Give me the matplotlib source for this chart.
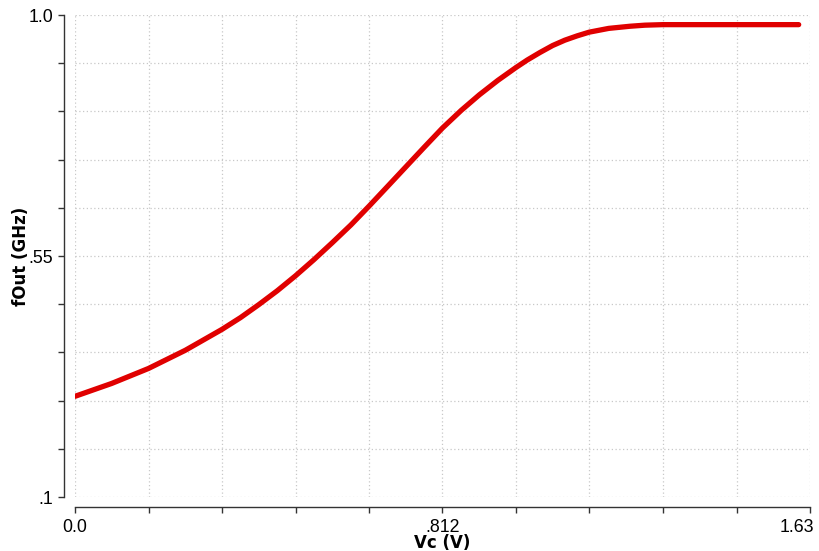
import matplotlib
matplotlib.use("Agg")
import matplotlib.pyplot as plt
import matplotlib.transforms as mtransforms
from matplotlib.ticker import FixedLocator, FixedFormatter

# Data
vc = [0.0, 0.081, 0.1625, 0.244, 0.325, 0.366, 0.406, 0.447, 0.4875, 0.528,
      0.569, 0.61, 0.65, 0.69, 0.731, 0.772, 0.8125, 0.854, 0.894, 0.935,
      0.975, 1.0, 1.028, 1.056, 1.083, 1.11, 1.137, 1.18, 1.227, 1.26,
      1.30, 1.40, 1.50, 1.60]
fout = [0.288, 0.312, 0.340, 0.374, 0.413, 0.435, 0.459, 0.485, 0.513, 0.543,
        0.575, 0.608, 0.643, 0.679, 0.716, 0.753, 0.789, 0.822, 0.851, 0.878,
        0.902, 0.916, 0.930, 0.943, 0.953, 0.961, 0.968, 0.975, 0.979, 0.981,
        0.982, 0.982, 0.982, 0.982]

x_ticks = [i * 0.1625 for i in range(11)]
x_labels = ["0.0", "", "", "", "", ".812", "", "", "", "", "1.63"]
y_ticks = [0.1 + i * 0.09 for i in range(11)]
y_labels = [".1", "", "", "", "", ".55", "", "", "", "", "1.0"]

W, H = 820, 551
fig = plt.figure(figsize=(W / 100, H / 100), dpi=100)
ax = fig.add_axes([75 / W, (H - 497) / H, 735 / W, 482 / H])

ax.plot(vc, fout, color="#e00000", lw=3.8, solid_capstyle="round",
        solid_joinstyle="round", zorder=3)

ax.set_xlim(0, 1.625)
ax.set_ylim(0.1, 1.0)

ax.xaxis.set_major_locator(FixedLocator(x_ticks))
ax.xaxis.set_major_formatter(FixedFormatter(x_labels))
ax.yaxis.set_major_locator(FixedLocator(y_ticks))
ax.yaxis.set_major_formatter(FixedFormatter(y_labels))

ax.grid(True, color="#c8c8c8", linestyle=(0, (1, 2)), linewidth=0.9)
ax.set_axisbelow(True)

for s in ["top", "right"]:
    ax.spines[s].set_visible(False)
ax.spines["left"].set_position(("outward", 8))
ax.spines["bottom"].set_position(("outward", 7))
for s in ["left", "bottom"]:
    ax.spines[s].set_color("#333333")
    ax.spines[s].set_linewidth(1.0)

ax.tick_params(axis="both", direction="out", length=4, width=1.0, color="#333333",
               labelsize=12.8)
ax.tick_params(axis="y", pad=3.5)
ax.tick_params(axis="x", pad=4.5)
for lab in ax.get_xticklabels() + ax.get_yticklabels():
    lab.set_family("Liberation Sans")
xl = ax.get_xticklabels()
xl[-1].set_ha("right")
offset = mtransforms.ScaledTranslation(4 / 100, 0, fig.dpi_scale_trans)
xl[-1].set_transform(xl[-1].get_transform() + offset)

ax.set_xlabel("Vc (V)", fontsize=12, fontweight="bold", family="DejaVu Sans", labelpad=-1)
ax.set_ylabel("fOut (GHz)", fontsize=12, fontweight="bold", family="DejaVu Sans")
ax.yaxis.set_label_coords((30 - 75) / 735, 0.5)

fig.savefig("out.png", dpi=100)
